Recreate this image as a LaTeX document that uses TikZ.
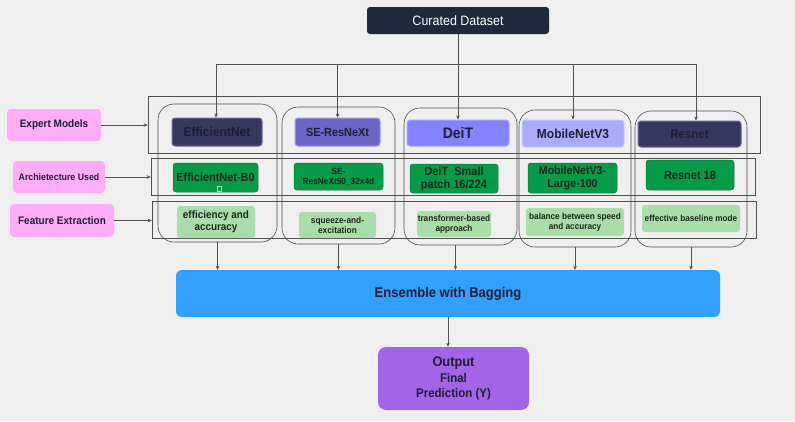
\documentclass[tikz,border=0pt]{standalone}
\usepackage{fontspec}
\setmainfont[FakeStretch=0.92]{Liberation Sans}
\usetikzlibrary{arrows.meta,calc}
\definecolor{bgc}{HTML}{EFEFEF}
\definecolor{dsc}{HTML}{1E293B}
\definecolor{pinkc}{HTML}{FFADF6}
\definecolor{linec}{HTML}{505050}
\definecolor{txt}{HTML}{1E1E36}
\definecolor{gtxt}{HTML}{1A261C}
\definecolor{greenc}{HTML}{079A49}
\definecolor{greend}{HTML}{0A7A3C}
\definecolor{lgreen}{HTML}{ABDDAB}
\definecolor{effc}{HTML}{37375F}
\definecolor{effb}{HTML}{6C6C9C}
\definecolor{sec}{HTML}{6C65C6}
\definecolor{seb}{HTML}{9F9AE3}
\definecolor{deic}{HTML}{8383FF}
\definecolor{deib}{HTML}{A9A9FF}
\definecolor{mobc}{HTML}{AAAAFF}
\definecolor{mobb}{HTML}{C6C6FF}
\definecolor{ensc}{HTML}{339FFF}
\definecolor{outc}{HTML}{A364E8}
\newcommand{\fs}[1]{\fontsize{\the\dimexpr#1pt*1087/1000\relax}{\the\dimexpr#1pt*1180/1000\relax}\selectfont}
\tikzset{
  lbl/.style={fill=pinkc, rounded corners=4pt, inner sep=0pt, text=txt, font=\bfseries\fs{10}},
  rowbox/.style={draw=linec, line width=0.7pt, inner sep=0pt},
  colbox/.style={draw=linec, line width=0.6pt, rounded corners=16pt, inner sep=0pt},
  model/.style={rounded corners=3pt, line width=1pt, inner sep=0pt, text=txt},
  arch/.style={fill=greenc, draw=greend, line width=0.5pt, rounded corners=3pt, inner sep=0pt, align=center, text=gtxt},
  feat/.style={fill=lgreen, rounded corners=3pt, inner sep=0pt, align=center, text=gtxt},
  conn/.style={draw=linec, line width=0.6pt},
  arr/.style={conn, -{Stealth[length=4pt,width=3.6pt]}},
}
\begin{document}
\begin{tikzpicture}[x=1pt,y=-1pt]
\fill[bgc] (0,0) rectangle (795,421);
\useasboundingbox (0,0) rectangle (795,421);

% dataset
\node[fill=dsc, rounded corners=3pt, inner sep=0pt, minimum width=182pt, minimum height=27pt, text=white, font=\fs{12.5}] (ds) at (458,20.5) {Curated Dataset};

% left labels
\node[lbl, minimum width=94pt, minimum height=32pt] (lab1) at (54,125) {Expert Models};
\node[lbl, minimum width=92pt, minimum height=32pt, font=\bfseries\fs{8.8}] (lab2) at (59,177) {Archietecture Used};
\node[lbl, minimum width=104pt, minimum height=33pt] (lab3) at (62,220.5) {Feature Extraction};

% row rectangles
\node[rowbox, minimum width=612pt, minimum height=57pt] (r1) at (454,124.5) {};
\node[rowbox, minimum width=604pt, minimum height=37pt] (r2) at (453,176.5) {};
\node[rowbox, minimum width=604pt, minimum height=37pt] (r3) at (454,219.5) {};

% columns
\node[colbox, minimum width=119pt, minimum height=138pt] (c1) at (217.5,173) {};
\node[colbox, minimum width=113pt, minimum height=137pt] (c2) at (338.5,175.5) {};
\node[colbox, minimum width=113pt, minimum height=137pt] (c3) at (460.5,176.5) {};
\node[colbox, minimum width=112pt, minimum height=137pt] (c4) at (575,178.5) {};
\node[colbox, minimum width=112pt, minimum height=136pt] (c5) at (691,179) {};

% model boxes
\node[model, fill=effc, draw=effb, minimum width=90pt, minimum height=28pt, font=\bfseries\fs{12}] (m1) at (217,132) {EfficientNet};
\node[model, fill=sec, draw=seb, minimum width=85pt, minimum height=28pt, font=\bfseries\fs{10.9}] (m2) at (337.5,132) {SE-ResNeXt};
\node[model, fill=deic, draw=deib, minimum width=102pt, minimum height=26pt, font=\bfseries\fs{14}] (m3) at (458,133) {DeiT};
\node[model, fill=mobc, draw=mobb, minimum width=102pt, minimum height=27pt, font=\bfseries\fs{12}] (m4) at (573,133.5) {MobileNetV3};
\node[model, fill=effc, draw=effb, minimum width=103pt, minimum height=26pt, font=\bfseries\fs{11.5}] (m5) at (689.5,134) {Resnet};

% architecture boxes
\node[arch, minimum width=85pt, minimum height=29pt, font=\bfseries\fs{10.9}] (a1) at (215.5,177.5) {EfficientNet-B0};
\draw[lgreen, line width=0.5pt] (217,186) rectangle (221,191);
\node[arch, minimum width=89pt, minimum height=27pt, font=\bfseries\fs{8.3}] (a2) at (338.5,176.5) {SE-\\ResNeXt50\_32x4d};
\node[arch, minimum width=88pt, minimum height=29pt, font=\bfseries\fs{11}] (a3) at (454,178.5) {DeiT~~Small\\patch 16/224};
\node[arch, minimum width=89pt, minimum height=30pt, font=\bfseries\fs{10.6}] (a4) at (572.5,178) {MobileNetV3-\\Large-100};
\node[arch, minimum width=88pt, minimum height=30pt, font=\bfseries\fs{11}] (a5) at (690,175) {Resnet 18};

% feature boxes
\node[feat, minimum width=78pt, minimum height=32pt, font=\bfseries\fs{9.9}] (f1) at (216,222) {efficiency and\\accuracy};
\node[feat, minimum width=77pt, minimum height=26pt, font=\bfseries\fs{8.3}] (f2) at (337.5,225) {squeeze-and-\\excitation};
\node[feat, minimum width=74pt, minimum height=26pt, font=\bfseries\fs{8.2}] (f3) at (454,224) {transformer-based\\approach};
\node[feat, minimum width=98pt, minimum height=28pt, font=\bfseries\fs{8.2}] (f4) at (575,222) {balance between speed\\and accuracy};
\node[feat, minimum width=98pt, minimum height=27pt, font=\bfseries\fs{8.2}] (f5) at (691,218.5) {effective baseline mode};

% ensemble and output
\node[fill=ensc, rounded corners=6pt, inner sep=0pt, minimum width=544pt, minimum height=47pt, text=txt, font=\bfseries\fs{13}] (ens) at (448,293.5) {Ensemble with Bagging};
\node[fill=outc, rounded corners=8pt, inner sep=0pt, minimum width=151pt, minimum height=63pt, text=txt, align=center, font=\bfseries\fs{11.5}] (out) at (453.5,378.5) {{\fs{12.8}Output}\\[2pt]Final\\[1.5pt]Prediction (Y)};

% top distribution
\coordinate (hub) at ($(ds.south)+(0,30)$);
\coordinate (hl) at (216,64);
\coordinate (hr) at (696,64);
\draw[conn] (ds.south) -- (hub);
\draw[conn] (hl) -- (hr);
\draw[arr] (hl) -- (hl |- m1.north);
\draw[arr] (m2.north |- hl) -- (m2.north);
\draw[arr] (m3.north |- hl) -- (m3.north);
\draw[arr] (m4.north |- hl) -- (m4.north);
\draw[arr] (hr) -- (hr |- m5.north);

% label arrows
\draw[arr] (lab1.east) -- (lab1.east -| r1.west);
\draw[arr] (lab2.east) -- (lab2.east -| r2.west);
\draw[arr] (lab3.east) -- (lab3.east -| r3.west);

% columns to ensemble
\draw[arr] (c1.south) -- (c1.south |- ens.north);
\draw[arr] (c2.south) -- (c2.south |- ens.north);
\draw[arr] ([xshift=-5pt]c3.south) -- ([xshift=-5pt]c3.south |- ens.north);
\draw[arr] (c4.south) -- (c4.south |- ens.north);
\draw[arr] (c5.south) -- (c5.south |- ens.north);

% ensemble to output
\draw[arr] (ens.south) -- (ens.south |- out.north);
\end{tikzpicture}
\end{document}
